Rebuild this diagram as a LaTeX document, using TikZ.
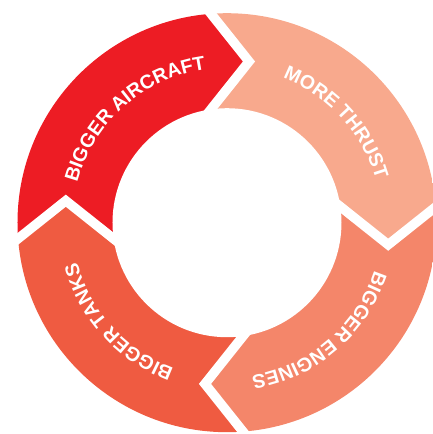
\documentclass[tikz,border=0pt]{standalone}
\usepackage{fontspec}
\setmainfont{Liberation Sans}
\usetikzlibrary{decorations.text,calc}
\definecolor{cAir}{HTML}{ED1C24}
\definecolor{cThr}{HTML}{F8A98D}
\definecolor{cEng}{HTML}{F4866A}
\definecolor{cTnk}{HTML}{EF5B41}
\newcommand\lblfont{\fontsize{19.5}{19.5}\selectfont\bfseries}
\tikzset{
  gapline/.style={white, line width=9.5, line join=miter, miter limit=10},
  arclabel/.style={decorate, decoration={text along path, text={#1}, text align=center, text color=white}}
}
\begin{document}
\begin{tikzpicture}[x=1pt,y=1pt]
\useasboundingbox (-227,-211.3) rectangle (206,222.7);
\def\Rout{209.5}
\def\Rin{114.5}
\def\Rtxt{155}
% chevron points: top, right, bottom, left boundaries
\coordinate (O) at (0,0);
\coordinate (Ta) at (-35,232.8);  \coordinate (Tt) at (22,161.2);   \coordinate (Tb) at (-35,89.6);
\coordinate (Ra) at (232.8,35);   \coordinate (Rt) at (161.2,-22);  \coordinate (Rb) at (89.6,35);
\coordinate (Ba) at (35,-232.8);  \coordinate (Bt) at (-22,-161.2); \coordinate (Bb) at (35,-89.6);
\coordinate (La) at (-232.8,-35); \coordinate (Lt) at (-161.2,22);  \coordinate (Lb) at (-89.6,-35);
\begin{scope}
  \clip (O) circle[radius=\Rout];
  \fill[cAir] (La) -- (Lt) -- (Lb) -- (O) -- (Tb) -- (Tt) -- (Ta) -- (-260,260) -- cycle;
  \fill[cThr] (Ta) -- (Tt) -- (Tb) -- (O) -- (Rb) -- (Rt) -- (Ra) -- (260,260) -- cycle;
  \fill[cEng] (Ra) -- (Rt) -- (Rb) -- (O) -- (Bb) -- (Bt) -- (Ba) -- (260,-260) -- cycle;
  \fill[cTnk] (Ba) -- (Bt) -- (Bb) -- (O) -- (Lb) -- (Lt) -- (La) -- (-260,-260) -- cycle;
\end{scope}
\fill[white] (O) circle[radius=\Rin];
\draw[gapline] (Ta) -- (Tt) -- (Tb);
\draw[gapline] (Ra) -- (Rt) -- (Rb);
\draw[gapline] (Ba) -- (Bt) -- (Bb);
\draw[gapline] (La) -- (Lt) -- (Lb);
% labels (centred on arcs that run clockwise)
\path[arclabel={|\lblfont|BIGGER AIRCRAFT}] (176.5:\Rtxt) arc[start angle=176.5, end angle=86.5, radius=\Rtxt];
\path[arclabel={|\lblfont|MORE THRUST}] (87.5:\Rtxt) arc[start angle=87.5, end angle=-2.5, radius=\Rtxt];
\path[arclabel={|\lblfont|BIGGER ENGINES}] (-4.5:\Rtxt) arc[start angle=-4.5, end angle=-94.5, radius=\Rtxt];
\path[arclabel={|\lblfont|BIGGER TANKS}] (-92.6:\Rtxt) arc[start angle=-92.6, end angle=-182.6, radius=\Rtxt];
\end{tikzpicture}
\end{document}
